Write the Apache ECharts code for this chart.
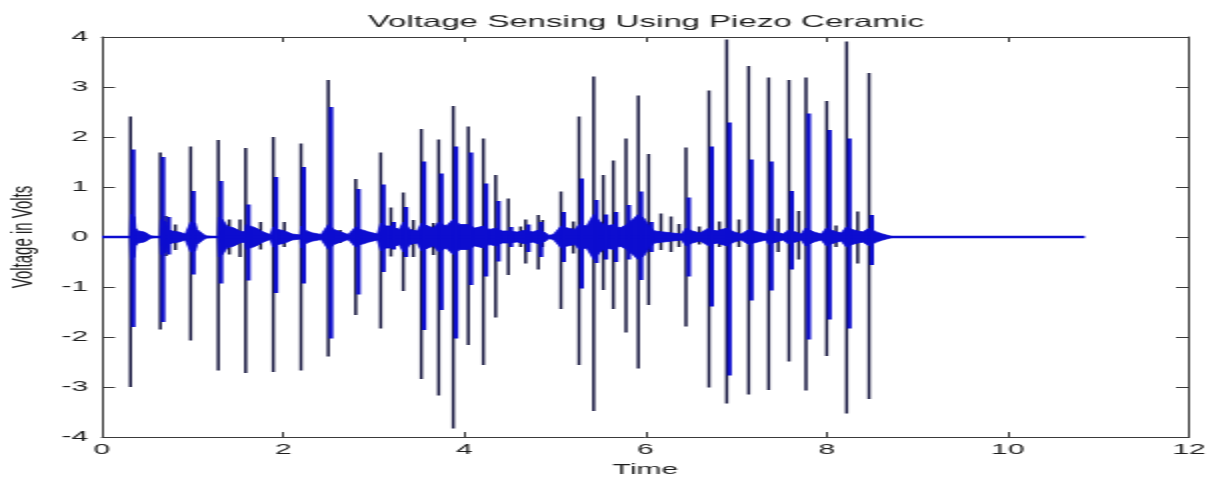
<!DOCTYPE html>
<html>
<head>
<meta charset="utf-8">
<title>Voltage Sensing Using Piezo Ceramic</title>
<script src="https://cdn.jsdelivr.net/npm/echarts@6/dist/echarts.min.js"></script>
<style>
    html, body { margin: 0; padding: 0; background: #fff; overflow: hidden; }
    /* the source figure is stretched sideways: draw at half width, stretch back */
    #chart { width: 610px; height: 478px; transform: scaleX(2); transform-origin: 0 0; }
</style>
</head>
<body>
<div id="chart"></div>
<script>
    // tall spikes of each tap: time, top, bottom, and the thick blue part
    var spikeT  = [0.315, 0.644, 0.707, 0.81, 0.979, 1.284, 1.405, 1.524, 1.586, 1.752,
                   1.891, 2.013, 2.197, 2.498, 2.63, 2.801, 3.077, 3.19, 3.326, 3.437,
                   3.525, 3.658, 3.717, 3.878, 4.044, 4.21, 4.346, 4.486, 4.622, 4.677,
                   4.817, 4.865, 5.067, 5.203, 5.266, 5.428, 5.534, 5.645, 5.785, 5.921,
                   6.035, 6.171, 6.282, 6.37, 6.447, 6.594, 6.701, 6.815, 6.897, 7.032,
                   7.139, 7.36, 7.466, 7.584, 7.692, 7.772, 8.001, 8.104, 8.221, 8.343, 8.468];
    var spikeHi = [2.41, 1.69, 0.42, 0.25, 1.81, 1.94, 0.35, 0.35, 1.78, 0.30,
                   2.00, 0.30, 1.87, 3.14, 0.14, 1.16, 1.69, 0.59, 0.89, 0.34,
                   2.16, 0.28, 1.95, 2.62, 2.21, 1.97, 1.24, 0.77, 0.21, 0.35,
                   0.44, 0.34, 0.91, 0.31, 2.41, 3.21, 1.24, 1.53, 1.97, 2.83,
                   1.66, 0.47, 0.41, 0.26, 1.79, 0.21, 2.93, 0.31, 3.95, 0.35,
                   3.42, 3.19, 0.37, 3.14, 0.52, 3.19, 2.72, 0.23, 3.91, 0.51, 3.28];
    var spikeLo = [-3.00, -1.85, -0.38, -0.26, -2.07, -2.67, -0.35, -0.40, -2.72, -0.25,
                   -2.70, -0.20, -2.67, -2.39, -0.12, -1.56, -1.83, -0.39, -1.08, -0.40,
                   -2.84, -0.36, -3.17, -3.83, -2.16, -2.56, -1.61, -0.76, -0.20, -0.53,
                   -0.65, -0.20, -1.44, -0.33, -2.56, -3.48, -1.06, -1.44, -1.91, -2.63,
                   -1.36, -0.26, -0.30, -0.20, -1.79, -0.15, -3.01, -0.20, -3.33, -0.20,
                   -3.15, -3.06, -0.30, -2.49, -0.45, -3.07, -2.38, -0.20, -3.53, -0.53, -3.24];
    var bandHi  = [1.75, 1.60, 0.40, 0, 0.92, 1.12, 0, 0, 0.65, 0,
                   1.20, 0, 1.40, 2.60, 0, 0.96, 1.05, 0.30, 0.60, 0,
                   1.51, 0, 1.27, 1.81, 1.69, 1.07, 0.72, 0.20, 0, 0.25,
                   0.30, 0, 0.50, 0, 1.17, 0.74, 0.45, 0.50, 0.64, 0.91,
                   0.30, 0, 0, 0, 0.79, 0, 1.81, 0, 2.29, 0,
                   1.55, 1.51, 0, 0.92, 0, 2.47, 2.14, 0, 1.97, 0, 0.44];
    var bandLo  = [-1.80, -1.70, -0.35, 0, -0.75, -0.93, 0, 0, -0.87, 0,
                   -1.12, 0, -0.93, -2.03, 0, -1.15, -0.70, -0.25, -0.40, 0,
                   -1.86, 0, -1.46, -2.03, -0.96, -0.79, -0.49, -0.20, 0, -0.30,
                   -0.40, 0, -0.50, 0, -1.03, -0.52, -0.45, -0.50, -0.45, -0.86,
                   -0.30, 0, 0, 0, -0.79, 0, -1.39, 0, -2.77, 0,
                   -1.27, -1.07, 0, -0.65, 0, -2.05, -1.65, 0, -1.83, 0, -0.56];

    // envelope of the ringing after each tap (symmetric about zero)
    var ringT   = [0.31, 0.32, 0.36, 0.37, 0.40, 0.44, 0.47, 0.50, 0.54, 0.64,
                   0.65, 0.71, 0.72, 0.78, 0.85, 0.92, 0.98, 1.03, 1.05, 1.10,
                   1.15, 1.28, 1.29, 1.33, 1.38, 1.46, 1.52, 1.58, 1.59, 1.64,
                   1.70, 1.78, 1.86, 1.89, 1.95, 2.02, 2.10, 2.19, 2.20, 2.26,
                   2.33, 2.42, 2.50, 2.56, 2.64, 2.72, 2.80, 2.86, 2.95, 3.04,
                   3.08, 3.14, 3.20, 3.28, 3.33, 3.40, 3.48, 3.53, 3.60, 3.66,
                   3.72, 3.80, 3.88, 3.95, 4.04, 4.12, 4.21, 4.28, 4.35, 4.42,
                   4.50, 4.58, 4.68, 4.75, 4.82, 4.88, 4.94, 4.99, 5.03, 5.07,
                   5.14, 5.22, 5.27, 5.35, 5.43, 5.50, 5.56, 5.65, 5.72, 5.79,
                   5.86, 5.92, 5.98, 6.04, 6.10, 6.20, 6.30, 6.40, 6.45, 6.52,
                   6.60, 6.70, 6.78, 6.90, 6.98, 7.06, 7.14, 7.24, 7.33, 7.36,
                   7.45, 7.52, 7.58, 7.66, 7.72, 7.77, 7.86, 7.94, 8.00, 8.08,
                   8.16, 8.22, 8.30, 8.40, 8.47, 8.55, 8.62, 8.72];
    var ringAmp = [0, 0.45, 0.40, 0.18, 0.12, 0.08, 0.10, 0.06, 0.02, 0,
                   0.35, 0.30, 0.15, 0.12, 0.10, 0.06, 0.30, 0.28, 0.15, 0.08,
                   0.02, 0, 0.40, 0.35, 0.22, 0.18, 0.12, 0.10, 0.25, 0.22,
                   0.18, 0.10, 0.05, 0.20, 0.15, 0.12, 0.06, 0.04, 0.22, 0.12,
                   0.08, 0.05, 0.25, 0.15, 0.10, 0.05, 0.20, 0.15, 0.10, 0.06,
                   0.28, 0.22, 0.22, 0.15, 0.30, 0.15, 0.12, 0.28, 0.22, 0.18,
                   0.30, 0.22, 0.35, 0.25, 0.25, 0.18, 0.22, 0.15, 0.18, 0.12,
                   0.12, 0.10, 0.14, 0.10, 0.14, 0.10, 0.03, 0.06, 0.02, 0.22,
                   0.18, 0.15, 0.25, 0.22, 0.45, 0.30, 0.22, 0.25, 0.18, 0.25,
                   0.35, 0.45, 0.38, 0.22, 0.12, 0.10, 0.08, 0.06, 0.18, 0.12,
                   0.08, 0.18, 0.12, 0.18, 0.10, 0.06, 0.15, 0.10, 0.06, 0.15,
                   0.10, 0.06, 0.14, 0.10, 0.06, 0.18, 0.10, 0.06, 0.18, 0.12,
                   0.08, 0.20, 0.14, 0.10, 0.18, 0.10, 0.06, 0.01];

    // the flat trace at zero, start to end of the record
    var traceT = [0, 10.85];
    var traceV = [0, 0];

    var blue = '#0d0dd0';
    var navy = '#16163f';
    var axisColor = '#3a3a3a';
    var textColor = '#1e1e1e';
    var font = 'Liberation Sans';

    var peakData = [];
    var bandData = [];
    spikeT.forEach(function (t, i) {
        peakData.push([t, spikeLo[i], spikeHi[i]]);
        if (bandHi[i] !== 0 || bandLo[i] !== 0) {
            bandData.push([t, bandLo[i], bandHi[i]]);
        }
    });
    var ringUp = ringT.map(function (t, i) { return [t, ringAmp[i]]; });
    var ringDown = ringT.map(function (t, i) { return [t, -ringAmp[i]]; });
    var trace = traceT.map(function (t, i) { return [t, traceV[i]]; });

    function peakItem(params, api) {
        var top = api.coord([api.value(0), api.value(2)]);
        var bottom = api.coord([api.value(0), api.value(1)]);
        return {
            type: 'line',
            shape: { x1: top[0], y1: top[1], x2: bottom[0], y2: bottom[1] },
            style: { stroke: navy, lineWidth: 1.5 }
        };
    }

    function bandItem(params, api) {
        var top = api.coord([api.value(0), api.value(2)]);
        var bottom = api.coord([api.value(0), api.value(1)]);
        return {
            type: 'rect',
            shape: { x: top[0] + 0.3, y: top[1], width: 2.2, height: bottom[1] - top[1] },
            style: { fill: blue }
        };
    }

    var chart = echarts.init(document.getElementById('chart'), null, { renderer: 'canvas' });

    function xAxisOf(position, withText) {
        return {
            type: 'value',
            position: position,
            min: 0,
            max: 12,
            interval: 2,
            name: withText ? 'Time' : '',
            nameLocation: 'middle',
            nameGap: 18,
            nameTextStyle: { fontFamily: font, fontSize: 15, color: textColor },
            axisLine: { show: true, onZero: false, lineStyle: { color: axisColor, width: 1 } },
            axisTick: { show: true, inside: true, length: 5, lineStyle: { color: axisColor } },
            axisLabel: { show: withText, margin: 5, fontFamily: font, fontSize: 15, color: textColor },
            splitLine: { show: false }
        };
    }

    function yAxisOf(position, withText) {
        return {
            type: 'value',
            position: position,
            min: -4,
            max: 4,
            interval: 1,
            name: withText ? 'Voltage in Volts' : '',
            nameLocation: 'middle',
            nameRotate: 90,
            nameGap: 28,
            nameTextStyle: { fontFamily: font, fontSize: 15, color: textColor },
            axisLine: { show: true, onZero: false, lineStyle: { color: axisColor, width: 1 } },
            axisTick: { show: true, inside: true, length: 6.5, lineStyle: { color: axisColor } },
            axisLabel: { show: withText, margin: 7, fontFamily: font, fontSize: 15, color: textColor },
            splitLine: { show: false }
        };
    }

    var option = {
        backgroundColor: '#ffffff',
        animation: false,
        title: {
            text: 'Voltage Sensing Using Piezo Ceramic',
            left: 179,
            top: 9,
            textStyle: { fontFamily: font, fontSize: 16.5, fontWeight: 'normal', color: textColor }
        },
        grid: { left: 51, right: 15.5, top: 37, bottom: 41, containLabel: false, outerBoundsMode: 'none' },
        xAxis: [xAxisOf('bottom', true), xAxisOf('top', false)],
        yAxis: [yAxisOf('left', true), yAxisOf('right', false)],
        series: [
            {
                name: 'peaks',
                type: 'custom',
                renderItem: peakItem,
                encode: { x: 0, y: [1, 2] },
                data: peakData,
                silent: true,
                z: 2
            },
            {
                name: 'trace',
                type: 'line',
                data: trace,
                showSymbol: false,
                lineStyle: { color: blue, width: 2.5 },
                silent: true,
                z: 3
            },
            {
                name: 'ringing',
                type: 'line',
                data: ringUp,
                showSymbol: false,
                lineStyle: { color: blue, width: 0.8 },
                areaStyle: { color: blue, opacity: 1 },
                silent: true,
                z: 3
            },
            {
                name: 'ringing-',
                type: 'line',
                data: ringDown,
                showSymbol: false,
                lineStyle: { color: blue, width: 0.8 },
                areaStyle: { color: blue, opacity: 1 },
                silent: true,
                z: 3
            },
            {
                name: 'burst',
                type: 'custom',
                renderItem: bandItem,
                encode: { x: 0, y: [1, 2] },
                data: bandData,
                silent: true,
                z: 4
            }
        ]
    };
    chart.setOption(option);
</script>
</body>
</html>
